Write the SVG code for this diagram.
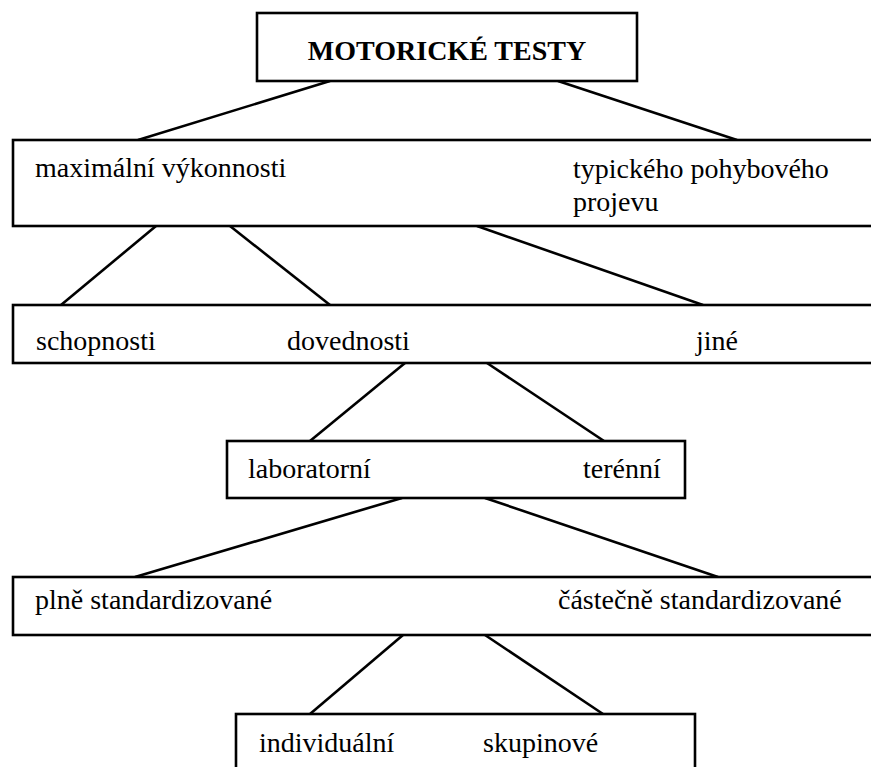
<svg xmlns="http://www.w3.org/2000/svg" width="871" height="767" viewBox="0 0 871 767">
<style>
.box{fill:#fff;stroke:#000;stroke-width:2.6}
.t{font-family:"Liberation Serif","Times New Roman",serif;font-size:28px;fill:#000}
.b{font-weight:bold}
.c line{stroke:#000;stroke-width:2.6}
</style>
<rect x="0" y="0" width="871" height="767" fill="#fff"/>
<g class="c" id="connectors">
<line x1="330" y1="81" x2="138" y2="140"/>
<line x1="558" y1="81" x2="737" y2="140"/>
<line x1="156" y1="226" x2="61" y2="305"/>
<line x1="230" y1="226" x2="330" y2="305"/>
<line x1="477" y1="226" x2="703" y2="305"/>
<line x1="405" y1="363" x2="310" y2="441"/>
<line x1="487" y1="363" x2="604" y2="441"/>
<line x1="402" y1="498" x2="135" y2="577"/>
<line x1="485" y1="498" x2="718" y2="577"/>
<line x1="403" y1="635" x2="310" y2="714"/>
<line x1="485" y1="635" x2="603" y2="714"/>
</g>
<g id="n_root">
<rect class="box" x="257" y="13" width="380" height="68"/>
<text class="t b" x="447" y="60" text-anchor="middle">MOTORICKÉ TESTY</text>
</g>
<g id="n_level1">
<rect class="box" x="13" y="140" width="880" height="86"/>
<text class="t" x="35" y="177">maximální výkonnosti</text>
<text class="t" x="573" y="178">typického pohybového</text>
<text class="t" x="573" y="211">projevu</text>
</g>
<g id="n_level2">
<rect class="box" x="13" y="305" width="880" height="58"/>
<text class="t" x="36" y="350">schopnosti</text>
<text class="t" x="287" y="350">dovednosti</text>
<text class="t" x="696" y="350">jiné</text>
</g>
<g id="n_level3">
<rect class="box" x="227" y="441" width="458" height="57"/>
<text class="t" x="248" y="478">laboratorní</text>
<text class="t" x="583" y="478">terénní</text>
</g>
<g id="n_level4">
<rect class="box" x="13" y="577" width="880" height="58"/>
<text class="t" x="35" y="609">plně standardizované</text>
<text class="t" x="558" y="609">částečně standardizované</text>
</g>
<g id="n_level5">
<rect class="box" x="236" y="714" width="459" height="80"/>
<text class="t" x="259" y="752">individuální</text>
<text class="t" x="483" y="752">skupinové</text>
</g>
</svg>
